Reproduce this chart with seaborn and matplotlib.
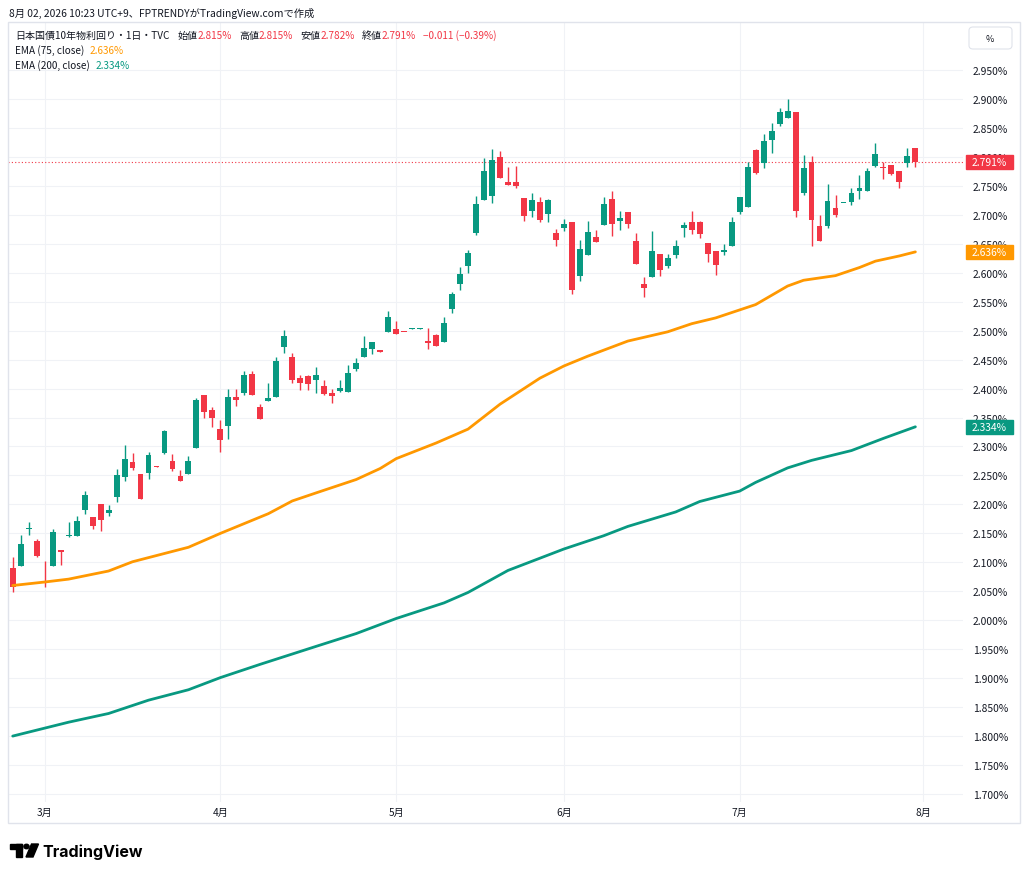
import numpy as np
import pandas as pd
import matplotlib
matplotlib.use("Agg")
import matplotlib.pyplot as plt
import matplotlib.transforms as mtransforms
from matplotlib.patches import Rectangle, FancyBboxPatch, Polygon, Circle
import seaborn as sns

# JGB 10y yield, daily candles (TVC shows every weekday), 2026-02-24 .. 2026-07-31
first_day = "2026-02-24"
last_day = "2026-07-31"

opens = [2.090, 2.093, 2.157, 2.137, 2.067, 2.093, 2.122, 2.146, 2.145, 2.191,
         2.179, 2.200, 2.185, 2.212, 2.248, 2.274, 2.252, 2.254, 2.266, 2.289,
         2.275, 2.249, 2.253, 2.297, 2.389, 2.363, 2.331, 2.335, 2.385, 2.393,
         2.426, 2.369, 2.378, 2.386, 2.472, 2.455, 2.419, 2.422, 2.415, 2.404,
         2.392, 2.396, 2.394, 2.433, 2.454, 2.469, 2.465, 2.498, 2.503, 2.498,
         2.503, 2.503, 2.482, 2.492, 2.480, 2.538, 2.580, 2.612, 2.668, 2.726,
         2.732, 2.800, 2.756, 2.757, 2.729, 2.706, 2.722, 2.701, 2.668, 2.677,
         2.687, 2.594, 2.631, 2.662, 2.683, 2.727, 2.690, 2.705, 2.655, 2.581,
         2.593, 2.633, 2.611, 2.630, 2.677, 2.688, 2.687, 2.651, 2.637, 2.635,
         2.646, 2.705, 2.714, 2.812, 2.789, 2.829, 2.856, 2.868, 2.877, 2.738,
         2.792, 2.680, 2.681, 2.711, 2.720, 2.722, 2.741, 2.741, 2.785, 2.783,
         2.786, 2.776, 2.790, 2.815]
highs = [2.109, 2.147, 2.170, 2.140, 2.102, 2.158, 2.122, 2.170, 2.180, 2.223,
         2.179, 2.200, 2.199, 2.261, 2.302, 2.289, 2.252, 2.291, 2.266, 2.329,
         2.287, 2.259, 2.284, 2.383, 2.389, 2.369, 2.346, 2.399, 2.399, 2.430,
         2.430, 2.373, 2.410, 2.454, 2.501, 2.461, 2.423, 2.423, 2.438, 2.414,
         2.399, 2.415, 2.440, 2.452, 2.490, 2.480, 2.465, 2.534, 2.517, 2.498,
         2.504, 2.504, 2.505, 2.494, 2.524, 2.567, 2.610, 2.639, 2.733, 2.798,
         2.813, 2.810, 2.783, 2.784, 2.729, 2.737, 2.731, 2.727, 2.675, 2.692,
         2.687, 2.657, 2.690, 2.674, 2.730, 2.741, 2.707, 2.705, 2.668, 2.592,
         2.672, 2.633, 2.632, 2.656, 2.687, 2.707, 2.690, 2.651, 2.637, 2.649,
         2.697, 2.731, 2.791, 2.814, 2.839, 2.859, 2.884, 2.900, 2.877, 2.804,
         2.801, 2.700, 2.753, 2.734, 2.721, 2.746, 2.769, 2.780, 2.824, 2.791,
         2.786, 2.776, 2.815, 2.815]
lows = [2.049, 2.093, 2.147, 2.109, 2.058, 2.093, 2.096, 2.143, 2.145, 2.183,
        2.157, 2.154, 2.180, 2.205, 2.241, 2.259, 2.210, 2.244, 2.265, 2.287,
        2.258, 2.240, 2.253, 2.297, 2.350, 2.333, 2.291, 2.313, 2.370, 2.389,
        2.389, 2.348, 2.378, 2.386, 2.461, 2.410, 2.397, 2.398, 2.392, 2.389,
        2.375, 2.394, 2.394, 2.430, 2.454, 2.460, 2.464, 2.498, 2.495, 2.497,
        2.503, 2.503, 2.469, 2.473, 2.480, 2.530, 2.570, 2.599, 2.665, 2.726,
        2.720, 2.763, 2.751, 2.747, 2.690, 2.696, 2.687, 2.687, 2.646, 2.672,
        2.563, 2.585, 2.631, 2.653, 2.683, 2.664, 2.674, 2.678, 2.615, 2.558,
        2.593, 2.595, 2.609, 2.625, 2.662, 2.667, 2.660, 2.619, 2.596, 2.631,
        2.646, 2.701, 2.714, 2.770, 2.780, 2.807, 2.853, 2.868, 2.696, 2.734,
        2.647, 2.654, 2.678, 2.697, 2.720, 2.717, 2.727, 2.741, 2.782, 2.761,
        2.768, 2.746, 2.782, 2.782]
closes = [2.057, 2.132, 2.158, 2.111, 2.066, 2.153, 2.118, 2.147, 2.172, 2.217,
          2.162, 2.173, 2.190, 2.251, 2.279, 2.263, 2.210, 2.285, 2.265, 2.327,
          2.262, 2.240, 2.275, 2.380, 2.359, 2.350, 2.312, 2.385, 2.381, 2.423,
          2.389, 2.348, 2.384, 2.448, 2.491, 2.415, 2.409, 2.408, 2.423, 2.390,
          2.388, 2.401, 2.427, 2.444, 2.470, 2.480, 2.464, 2.523, 2.495, 2.497,
          2.504, 2.504, 2.478, 2.473, 2.513, 2.564, 2.597, 2.634, 2.718, 2.775,
          2.794, 2.763, 2.751, 2.749, 2.698, 2.725, 2.691, 2.725, 2.656, 2.684,
          2.571, 2.641, 2.670, 2.653, 2.718, 2.685, 2.695, 2.684, 2.615, 2.574,
          2.637, 2.604, 2.626, 2.646, 2.682, 2.674, 2.667, 2.632, 2.614, 2.640,
          2.688, 2.731, 2.783, 2.773, 2.828, 2.844, 2.877, 2.880, 2.707, 2.781,
          2.691, 2.654, 2.723, 2.700, 2.721, 2.737, 2.747, 2.775, 2.805, 2.780,
          2.771, 2.756, 2.802, 2.791]

# EMA values at some bars (bar number from the first candle)
ema75_bars = [0, 4, 7, 12, 15, 22, 26, 32, 35, 38, 43, 46, 48, 53, 57, 61,
              66, 69, 72, 77, 82, 85, 88, 93, 97, 99, 103, 106, 108, 111, 113]
ema75_vals = [2.060, 2.066, 2.071, 2.085, 2.101, 2.126, 2.150, 2.184, 2.206,
              2.220, 2.243, 2.262, 2.279, 2.306, 2.330, 2.373, 2.418, 2.439,
              2.456, 2.482, 2.498, 2.512, 2.522, 2.545, 2.577, 2.587, 2.595,
              2.609, 2.620, 2.629, 2.636]
ema200_bars = [0, 7, 12, 17, 22, 26, 31, 38, 43, 48, 54, 57, 62, 69, 74, 77,
               83, 86, 91, 93, 97, 100, 105, 109, 113]
ema200_vals = [1.800, 1.824, 1.839, 1.862, 1.880, 1.901, 1.924, 1.955, 1.977,
               2.003, 2.030, 2.048, 2.086, 2.123, 2.146, 2.162, 2.187, 2.205,
               2.223, 2.238, 2.263, 2.276, 2.293, 2.314, 2.334]

price_ticks = [1.70, 1.75, 1.80, 1.85, 1.90, 1.95, 2.00, 2.05, 2.10, 2.15, 2.20,
               2.25, 2.30, 2.35, 2.40, 2.45, 2.50, 2.55, 2.60, 2.65, 2.70, 2.75,
               2.80, 2.85, 2.90, 2.95]

GREEN = "#089981"
RED = "#f23645"
ORANGE = "#ff9800"
DARK = "#131722"
GRID = "#f0f2f6"
BORDER = "#e0e3eb"

sns.set_theme(style="white")
plt.rcParams["font.family"] = ["Noto Sans CJK JP", "DejaVu Sans"]

W, H = 1024, 878
fig = plt.figure(figsize=(W / 100, H / 100), dpi=100)
fig.patch.set_facecolor("white")
ax = fig.add_axes([8 / W, 1 - 803 / H, 955 / W, 780 / H])

dates = pd.bdate_range(first_day, last_day)
o, h, l, c = (np.array(a) for a in (opens, highs, lows, closes))
x = np.arange(len(dates))
cols = np.where(c >= o, GREEN, RED)

# candles
ax.vlines(x, l, h, colors=cols, lw=1.0, zorder=3)
ax.bar(x, np.maximum(np.abs(c - o), 0.0018), bottom=np.minimum(o, c),
       width=0.74, color=cols, linewidth=0, zorder=4)

# EMAs
sns.lineplot(x=ema75_bars, y=ema75_vals, color=ORANGE, lw=2.0, ax=ax,
             estimator=None, zorder=5)
sns.lineplot(x=ema200_bars, y=ema200_vals, color=GREEN, lw=2.0, ax=ax,
             estimator=None, zorder=5)

# last close dotted line
ax.axhline(c[-1], color=RED, lw=0.8, ls=(0, (1, 2)), zorder=2)

# month ticks: first bar of each month, plus the next month after the data
month_pos = [i for i in range(len(dates)) if i == 0 or dates[i].month != dates[i - 1].month]
month_pos = [p for p in month_pos if dates[p].day <= 3]
month_lab = [f"{dates[p].month}月" for p in month_pos]
month_pos.append(len(dates))
month_lab.append(f"{dates[-1].month % 12 + 1}月")

ax.set_xlim(-0.59, 118.96)
ax.set_ylim(1.6862, 3.0329)
ax.set_xticks(month_pos)
ax.set_xticklabels(month_lab)
ax.set_yticks(price_ticks)
ax.yaxis.set_major_formatter(plt.FuncFormatter(lambda v, _: f"{v:.3f}%"))
ax.yaxis.tick_right()
ax.tick_params(axis="y", length=0, pad=7.0, labelsize=7.4, labelcolor=DARK)
ax.tick_params(axis="x", length=0, pad=3.5, labelsize=7.3, labelcolor=DARK)
ax.grid(True, color=GRID, lw=0.8)
ax.set_axisbelow(True)
for s in ax.spines.values():
    s.set_visible(False)
ax.set_xlabel("")
ax.set_ylabel("")

# price labels on the scale
trans = mtransforms.blended_transform_factory(ax.transAxes, ax.transData)
for val, col in [(c[-1], RED), (ema75_vals[-1], ORANGE), (ema200_vals[-1], GREEN)]:
    ax.add_patch(Rectangle((958 / 955, val - 0.0121), 47 / 955, 0.0242, transform=trans,
                           color=col, clip_on=False, zorder=6))
    ax.text(964 / 955, val, f"{val:.3f}%", transform=trans, color="white", va="center",
            ha="left", fontsize=7.4, clip_on=False, zorder=7)


# legend lines, segments chained left to right
def chain(y, parts, size=7.2):
    t = ax.text(7 / 955, y, parts[0][0], color=parts[0][1], transform=ax.transAxes,
                va="center", ha="left", fontsize=size, zorder=8)
    for s, col, gap in parts[1:]:
        t = ax.annotate(s, xy=(1, 0.5), xycoords=t, xytext=(gap, 0),
                        textcoords="offset points", va="center", ha="left",
                        color=col, fontsize=size, zorder=8)
    return t


chg = c[-1] - c[-2]
pct = chg / c[-2] * 100
chain(1 - 13 / 780, [("日本国債10年物利回り・1日・TVC", DARK),
                     ("始値", DARK, 6), (f"{o[-1]:.3f}%", RED, 0),
                     ("高値", DARK, 5), (f"{h[-1]:.3f}%", RED, 0),
                     ("安値", DARK, 5), (f"{l[-1]:.3f}%", RED, 0),
                     ("終値", DARK, 5), (f"{c[-1]:.3f}%", RED, 0),
                     (f"{chg:+.3f} ({pct:+.2f}%)".replace("-", "−"), RED, 5)])
chain(1 - 28 / 780, [("EMA (75, close)", DARK), (f"{ema75_vals[-1]:.3f}%", ORANGE, 4)])
chain(1 - 43 / 780, [("EMA (200, close)", DARK), (f"{ema200_vals[-1]:.3f}%", GREEN, 4)])


def px(xp, yp):
    return (xp / W, 1 - yp / H)


# panel frame and unit box
fig.add_artist(Rectangle(px(8, 824), 1012 / W, 801 / H, transform=fig.transFigure,
                         fill=False, ec=BORDER, lw=1))
fig.add_artist(FancyBboxPatch(px(969, 50), 43 / W, 22 / H, transform=fig.transFigure,
                              boxstyle="round,pad=0,rounding_size=0.004",
                              fc="white", ec=BORDER, lw=0.8))
fig.text(*px(990, 39), "%", fontsize=6.5, color=DARK, ha="center", va="center")

# header
fig.text(*px(9, 13), "8月 02, 2026 10:23 UTC+9、FPTRENDYがTradingView.comで作成",
         fontsize=7.4, color=DARK, ha="left", va="center")

# TradingView logo
logo = [Rectangle(px(10, 850), 12 / W, 5 / H),
        Rectangle(px(16, 858), 6 / W, 13 / H),
        Circle(px(26.5, 847.5), 2.6 / W),
        Polygon([px(26, 858), px(31.5, 845), px(38.5, 845), px(33, 858)])]
for p in logo:
    p.set_transform(fig.transFigure)
    p.set_color("#000000")
    fig.add_artist(p)
fig.text(*px(42, 852), "TradingView", fontsize=11.5, fontweight="bold",
         color="#000000", ha="left", va="center", family=["Inter", "DejaVu Sans"])

fig.savefig("out.png", dpi=100)
